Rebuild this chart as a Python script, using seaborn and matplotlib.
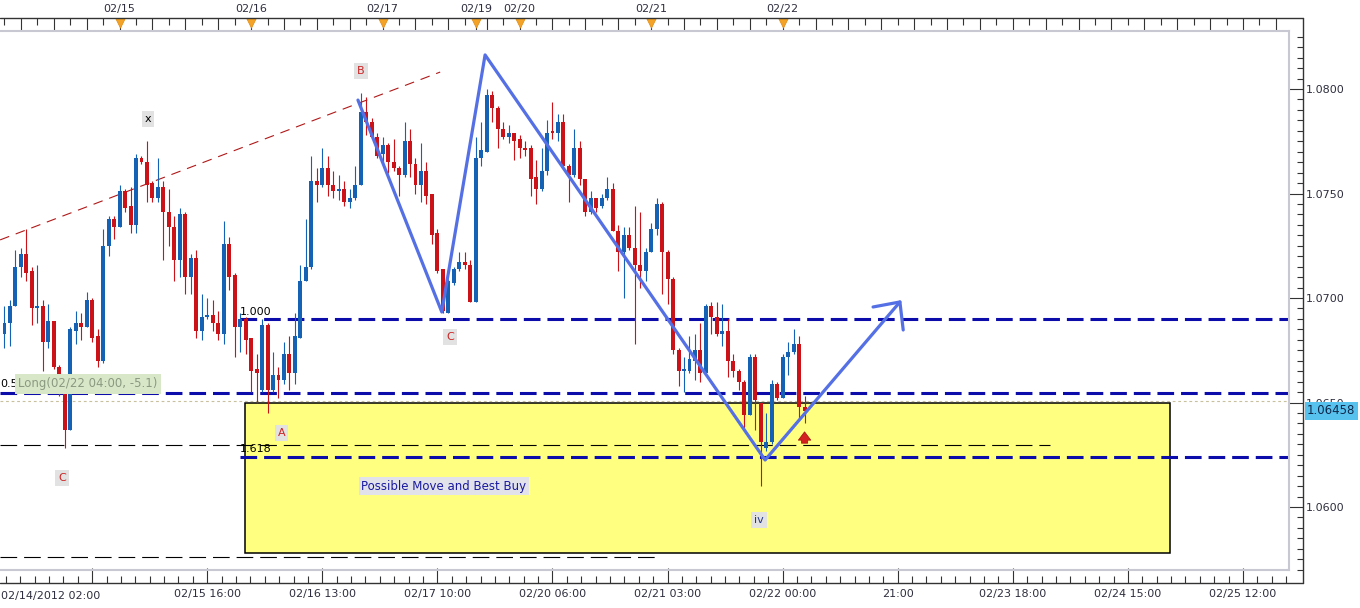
import matplotlib
matplotlib.use("Agg")
import matplotlib.pyplot as plt
from matplotlib.lines import Line2D
from matplotlib.patches import Rectangle
import numpy as np
import seaborn as sns

# hourly bars, index 0 = first visible candle (02/14)
opens = [1.0683, 1.0688, 1.0696, 1.0715, 1.0721, 1.0713, 1.0695, 1.0696, 1.0679, 1.0689,
         1.0667, 1.0655, 1.0637, 1.0684, 1.0688, 1.0686, 1.0699, 1.0682, 1.0670, 1.0725,
         1.0738, 1.0734, 1.0751, 1.0744, 1.0735, 1.0767, 1.0765, 1.0755, 1.0748, 1.0753,
         1.0741, 1.0734, 1.0718, 1.0740, 1.0710, 1.0719, 1.0684, 1.0691, 1.0692, 1.0688,
         1.0683, 1.0726, 1.0711, 1.0686, 1.0690, 1.0681, 1.0666, 1.0656, 1.0687, 1.0656,
         1.0663, 1.0661, 1.0673, 1.0664, 1.0681, 1.0708, 1.0715, 1.0756, 1.0754, 1.0762,
         1.0754, 1.0751, 1.0752, 1.0746, 1.0748, 1.0754, 1.0789, 1.0784, 1.0777, 1.0769,
         1.0773, 1.0765, 1.0762, 1.0759, 1.0775, 1.0764, 1.0754, 1.0761, 1.0750, 1.0731,
         1.0714, 1.0693, 1.0707, 1.0714, 1.0717, 1.0716, 1.0698, 1.0767, 1.0770, 1.0797,
         1.0791, 1.0781, 1.0777, 1.0779, 1.0776, 1.0772, 1.0772, 1.0758, 1.0752, 1.0761,
         1.0780, 1.0779, 1.0784, 1.0763, 1.0759, 1.0772, 1.0757, 1.0741, 1.0748, 1.0744,
         1.0748, 1.0752, 1.0732, 1.0722, 1.0730, 1.0724, 1.0716, 1.0713, 1.0722, 1.0733,
         1.0745, 1.0722, 1.0709, 1.0675, 1.0665, 1.0665, 1.0670, 1.0675, 1.0664, 1.0696,
         1.0691, 1.0683, 1.0684, 1.0670, 1.0665, 1.0660, 1.0644, 1.0672, 1.0650, 1.0628,
         1.0631, 1.0659, 1.0652, 1.0672, 1.0674, 1.0678, 1.0648]
highs = [1.0696, 1.0699, 1.0723, 1.0724, 1.0733, 1.0715, 1.0716, 1.0699, 1.0697, 1.0689,
         1.0668, 1.0657, 1.0686, 1.0694, 1.0693, 1.0703, 1.0700, 1.0685, 1.0733, 1.0739,
         1.0739, 1.0754, 1.0752, 1.0753, 1.0769, 1.0768, 1.0775, 1.0756, 1.0767, 1.0756,
         1.0752, 1.0739, 1.0743, 1.0741, 1.0721, 1.0723, 1.0702, 1.0700, 1.0699, 1.0694,
         1.0737, 1.0729, 1.0712, 1.0693, 1.0691, 1.0681, 1.0673, 1.0690, 1.0688, 1.0674,
         1.0667, 1.0679, 1.0682, 1.0693, 1.0716, 1.0738, 1.0768, 1.0762, 1.0772, 1.0768,
         1.0761, 1.0759, 1.0756, 1.0752, 1.0763, 1.0798, 1.0796, 1.0786, 1.0779, 1.0777,
         1.0774, 1.0776, 1.0763, 1.0784, 1.0781, 1.0767, 1.0774, 1.0765, 1.0750, 1.0733,
         1.0714, 1.0709, 1.0715, 1.0722, 1.0722, 1.0718, 1.0777, 1.0784, 1.0800, 1.0799,
         1.0792, 1.0784, 1.0783, 1.0779, 1.0778, 1.0775, 1.0773, 1.0766, 1.0772, 1.0785,
         1.0794, 1.0788, 1.0788, 1.0764, 1.0781, 1.0775, 1.0757, 1.0751, 1.0748, 1.0750,
         1.0758, 1.0755, 1.0735, 1.0734, 1.0734, 1.0744, 1.0741, 1.0724, 1.0736, 1.0748,
         1.0746, 1.0723, 1.0710, 1.0676, 1.0672, 1.0682, 1.0683, 1.0688, 1.0697, 1.0698,
         1.0698, 1.0697, 1.0690, 1.0673, 1.0666, 1.0661, 1.0673, 1.0673, 1.0650, 1.0645,
         1.0661, 1.0660, 1.0673, 1.0679, 1.0685, 1.0682, 1.0653]
lows = [1.0676, 1.0677, 1.0696, 1.0710, 1.0708, 1.0687, 1.0688, 1.0665, 1.0676, 1.0666,
        1.0653, 1.0628, 1.0637, 1.0678, 1.0680, 1.0686, 1.0679, 1.0667, 1.0669, 1.0720,
        1.0728, 1.0734, 1.0741, 1.0731, 1.0731, 1.0764, 1.0746, 1.0746, 1.0746, 1.0718,
        1.0725, 1.0708, 1.0710, 1.0702, 1.0702, 1.0681, 1.0680, 1.0690, 1.0684, 1.0680,
        1.0678, 1.0704, 1.0672, 1.0674, 1.0673, 1.0655, 1.0650, 1.0655, 1.0645, 1.0655,
        1.0652, 1.0659, 1.0656, 1.0659, 1.0681, 1.0708, 1.0714, 1.0746, 1.0753, 1.0749,
        1.0748, 1.0747, 1.0744, 1.0743, 1.0747, 1.0754, 1.0778, 1.0776, 1.0767, 1.0765,
        1.0760, 1.0761, 1.0749, 1.0758, 1.0758, 1.0750, 1.0746, 1.0745, 1.0726, 1.0712,
        1.0693, 1.0693, 1.0706, 1.0713, 1.0714, 1.0698, 1.0698, 1.0763, 1.0770, 1.0784,
        1.0772, 1.0776, 1.0774, 1.0766, 1.0767, 1.0768, 1.0749, 1.0745, 1.0751, 1.0759,
        1.0776, 1.0775, 1.0763, 1.0746, 1.0758, 1.0754, 1.0739, 1.0740, 1.0741, 1.0743,
        1.0747, 1.0732, 1.0713, 1.0700, 1.0723, 1.0678, 1.0705, 1.0708, 1.0722, 1.0730,
        1.0702, 1.0697, 1.0673, 1.0658, 1.0655, 1.0664, 1.0661, 1.0660, 1.0664, 1.0683,
        1.0682, 1.0677, 1.0662, 1.0662, 1.0656, 1.0638, 1.0644, 1.0637, 1.0610, 1.0627,
        1.0630, 1.0651, 1.0652, 1.0663, 1.0673, 1.0642, 1.0640]
closes = [1.0688, 1.0696, 1.0715, 1.0721, 1.0712, 1.0695, 1.0696, 1.0679, 1.0689, 1.0667,
          1.0663, 1.0637, 1.0685, 1.0688, 1.0686, 1.0699, 1.0681, 1.0670, 1.0725, 1.0738,
          1.0734, 1.0751, 1.0743, 1.0735, 1.0767, 1.0765, 1.0754, 1.0748, 1.0753, 1.0741,
          1.0734, 1.0718, 1.0740, 1.0710, 1.0719, 1.0684, 1.0691, 1.0692, 1.0688, 1.0683,
          1.0726, 1.0710, 1.0686, 1.0690, 1.0680, 1.0665, 1.0664, 1.0687, 1.0656, 1.0663,
          1.0661, 1.0673, 1.0664, 1.0682, 1.0708, 1.0715, 1.0756, 1.0754, 1.0762, 1.0754,
          1.0751, 1.0752, 1.0746, 1.0748, 1.0754, 1.0789, 1.0784, 1.0777, 1.0768, 1.0773,
          1.0765, 1.0762, 1.0759, 1.0775, 1.0764, 1.0754, 1.0761, 1.0749, 1.0730, 1.0713,
          1.0694, 1.0708, 1.0714, 1.0717, 1.0716, 1.0698, 1.0767, 1.0771, 1.0797, 1.0791,
          1.0781, 1.0777, 1.0779, 1.0775, 1.0772, 1.0771, 1.0757, 1.0752, 1.0761, 1.0779,
          1.0779, 1.0784, 1.0763, 1.0759, 1.0772, 1.0757, 1.0741, 1.0748, 1.0743, 1.0748,
          1.0752, 1.0732, 1.0722, 1.0730, 1.0724, 1.0716, 1.0713, 1.0722, 1.0733, 1.0745,
          1.0722, 1.0709, 1.0675, 1.0665, 1.0666, 1.0671, 1.0675, 1.0664, 1.0696, 1.0691,
          1.0683, 1.0684, 1.0670, 1.0665, 1.0660, 1.0644, 1.0672, 1.0651, 1.0631, 1.0631,
          1.0659, 1.0652, 1.0672, 1.0674, 1.0678, 1.0648, 1.06458]

top_day_pos = [21, 45, 69, 86, 94, 118, 142]
top_day_labels = ["02/15", "02/16", "02/17", "02/19", "02/20", "02/21", "02/22"]
bottom_pos = [37, 58, 79, 100, 121, 142, 163, 184, 205, 226]
bottom_labels = ["02/15 16:00", "02/16 13:00", "02/17 10:00", "02/20 06:00", "02/21 03:00",
                 "02/22 00:00", "21:00", "02/23 18:00", "02/24 15:00", "02/25 12:00"]
first_label = "02/14/2012 02:00"
price_ticks = [1.0600, 1.0650, 1.0700, 1.0750, 1.0800]
last_price = 1.06458
entry_price = 1.06509

# drawn annotations
wave_x = [64.5, 79.8, 87.7, 138.8, 163.4]
wave_y = [1.07947, 1.06933, 1.08163, 1.06225, 1.06981]
head_x = [158.5, 163.4, 164.0]
head_y = [1.06957, 1.06981, 1.06847]
trend_x = [-0.8, 79.5]
trend_y = [1.07278, 1.08081]
blue_levels = [1.0690, 1.06545, 1.06241]
blue_starts = [43.0, -0.8, 43.0]
black_levels = [1.06297, 1.05762]
black_ends = [190.8, 118.7]
zone_x = (43.9, 212.7)
zone_y = (1.0578, 1.06498)

BLUE = "#1561b3"
RED = "#cc1219"
WAVE = "#5470e4"
LEVEL = "#0c0caa"
TXT = "#2e2e3e"

sns.set_style("white")
plt.rcParams["font.family"] = ["DejaVu Sans"]
plt.rcParams["lines.scale_dashes"] = False

W, H = 1360, 608
fig = plt.figure(figsize=(W / 100, H / 100), dpi=100)
fig.patch.set_facecolor("white")
ax = fig.add_axes([0, 1 - 570 / H, 1289 / W, (570 - 31) / H])
ax.set_xlim(-0.82, 234.4)
ax.set_ylim(1.056986, 1.082775)
ax.set_xticks([])
ax.set_yticks([])
ax.spines["left"].set_visible(False)
for s in ("top", "right", "bottom"):
    ax.spines[s].set_color("#c8c8d2")
    ax.spines[s].set_linewidth(1.5)

# yellow zone
ax.add_patch(Rectangle((zone_x[0], zone_y[0]), zone_x[1] - zone_x[0], zone_y[1] - zone_y[0],
                       fc="#ffff80", ec="black", lw=1.1, zorder=0.5))

# levels
for lev, x0 in zip(blue_levels, blue_starts):
    ax.plot([x0, 234.4], [lev, lev], color=LEVEL, lw=2.2, ls=(0, (12, 5)), zorder=2)
for lev, x1 in zip(black_levels, black_ends):
    ax.plot([-0.8, x1], [lev, lev], color="black", lw=0.8, ls=(0, (12, 5)), zorder=2)
ax.plot([-0.8, 234.4], [entry_price] * 2, color="#c8bf9c", lw=0.8, ls=(0, (2, 2)), zorder=2)
ax.plot(trend_x, trend_y, color="#b01818", lw=0.8, ls=(0, (7, 5)), zorder=2)

# candles
x = np.arange(len(opens))
o, h, l, c = map(np.array, (opens, highs, lows, closes))
cols = np.where(c >= o, BLUE, RED)
ax.vlines(x, l, h, colors=cols, lw=0.8, zorder=3)
ax.bar(x, np.maximum(np.abs(c - o), 0.00004), bottom=np.minimum(o, c), width=0.72,
       color=cols, linewidth=0, zorder=4)

# wave drawing
sns.lineplot(x=wave_x, y=wave_y, sort=False, estimator=None, color=WAVE, lw=2.3, ax=ax, zorder=6)
ax.plot(head_x, head_y, color=WAVE, lw=2.3, zorder=6, solid_capstyle="round")

ax.annotate("", xy=(146, 1.06373), xytext=(146, 1.06292),
            arrowprops=dict(arrowstyle="simple,head_width=0.9,head_length=0.6,tail_width=0.45",
                            fc="#d42020", ec="#a01010", lw=0.5), zorder=7)


def tag(xp, yp, s, color, fs=8):
    ax.text(xp, yp, s, color=color, fontsize=fs, ha="center", va="center", zorder=7,
            bbox=dict(boxstyle="square,pad=0.25", fc="#e2e2e2", ec="none"))


tag(65.05, 1.08086, "B", "#cc2222")
tag(26.2, 1.07856, "x", "black")
tag(81.3, 1.06813, "C", "#cc2222")
tag(50.5, 1.06354, "A", "#cc2222")
tag(10.5, 1.06139, "C", "#cc2222")
tag(137.7, 1.05938, "iv", "#24388a")
ax.text(80.2, 1.0610, "Possible Move and Best Buy", color="#1a1aa0", fontsize=8.5,
        ha="center", va="center", zorder=7,
        bbox=dict(boxstyle="square,pad=0.2", fc="#e2e2ea", ec="none"))
ax.text(43.0, 1.06933, "1.000", color="black", fontsize=8, ha="left", va="center", zorder=7)
ax.text(43.0, 1.06278, "1.618", color="black", fontsize=8, ha="left", va="center", zorder=7)
ax.text(-0.8, 1.06589, "0.5", color="black", fontsize=8, ha="left", va="center", zorder=7)
ax.text(2.5, 1.06589, "Long(02/22 04:00, -5.1)", color="#8a9a80", fontsize=8.5,
        ha="left", va="center", zorder=8,
        bbox=dict(boxstyle="square,pad=0.3", fc="#d9e7c9", ec="none"))

# outer axes
top_loc = 1 + 13 / 539
bot_loc = -13 / 539
right_loc = 1303 / 1289

top = ax.secondary_xaxis(top_loc)
long_ticks = list(range(3, 82, 6)) + [86] + list(range(88, 235, 6))
short_ticks = list(range(0, 85, 6)) + list(range(91, 235, 6))
day_map = dict(zip(top_day_pos, top_day_labels))
top.set_xticks(long_ticks, [day_map.get(t, "") for t in long_ticks])
top.set_xticks(short_ticks, minor=True)
top.tick_params(which="major", direction="in", length=8.5, width=0.8, color="#333",
                pad=3, labelsize=8, labelcolor=TXT)
top.tick_params(which="minor", direction="in", length=5, width=0.8, color="#333")

bot = ax.secondary_xaxis(bot_loc)
bot.set_xticks([16] + bottom_pos, [""] + bottom_labels)
bot.set_xticks(np.arange(16 - 2.625 * 6, 235, 2.625), minor=True)
bot.tick_params(which="major", direction="in", length=10.5, width=0.8, color="#333",
                pad=4, labelsize=8, labelcolor=TXT)
bot.tick_params(which="minor", direction="in", length=5, width=0.8, color="#333")

right = ax.secondary_yaxis(right_loc)
right.set_yticks(price_ticks, [f"{p:.4f}" for p in price_ticks])
right.set_yticks(np.arange(1.0570, 1.0830, 0.0005), minor=True)
right.tick_params(which="major", direction="in", length=10, width=0.8, color="#333",
                  pad=2, labelsize=8, labelcolor=TXT)
right.tick_params(which="minor", direction="in", length=4.3, width=0.8, color="#333")

for sec in (top, bot, right):
    for s in sec.spines.values():
        s.set_visible(False)

ax.scatter(top_day_pos, [1 + 8 / 539] * len(top_day_pos), transform=ax.get_xaxis_transform(),
           marker="v", s=45, color="#f3a327", edgecolors="#e08a10", linewidths=0.5,
           clip_on=False, zorder=9)

frame = dict(transform=fig.transFigure, color="#333333", lw=1.0)
fig.add_artist(Line2D([0, 1303 / W], [1 - 18 / H] * 2, **frame))
fig.add_artist(Line2D([0, 1303 / W], [1 - 583 / H] * 2, **frame))
fig.add_artist(Line2D([1303 / W] * 2, [1 - 18 / H, 1 - 583 / H], **frame))

fig.text(1 / W, 1 - 596 / H, first_label, fontsize=8, color=TXT, ha="left", va="center")
fig.text(1307 / W, 1 - 411 / H, f"{last_price:.5f}", fontsize=8.5, color="#10284a",
         ha="left", va="center", zorder=10,
         bbox=dict(boxstyle="square,pad=0.2", fc="#58c2ef", ec="none"))

fig.savefig("out.png", dpi=100)
